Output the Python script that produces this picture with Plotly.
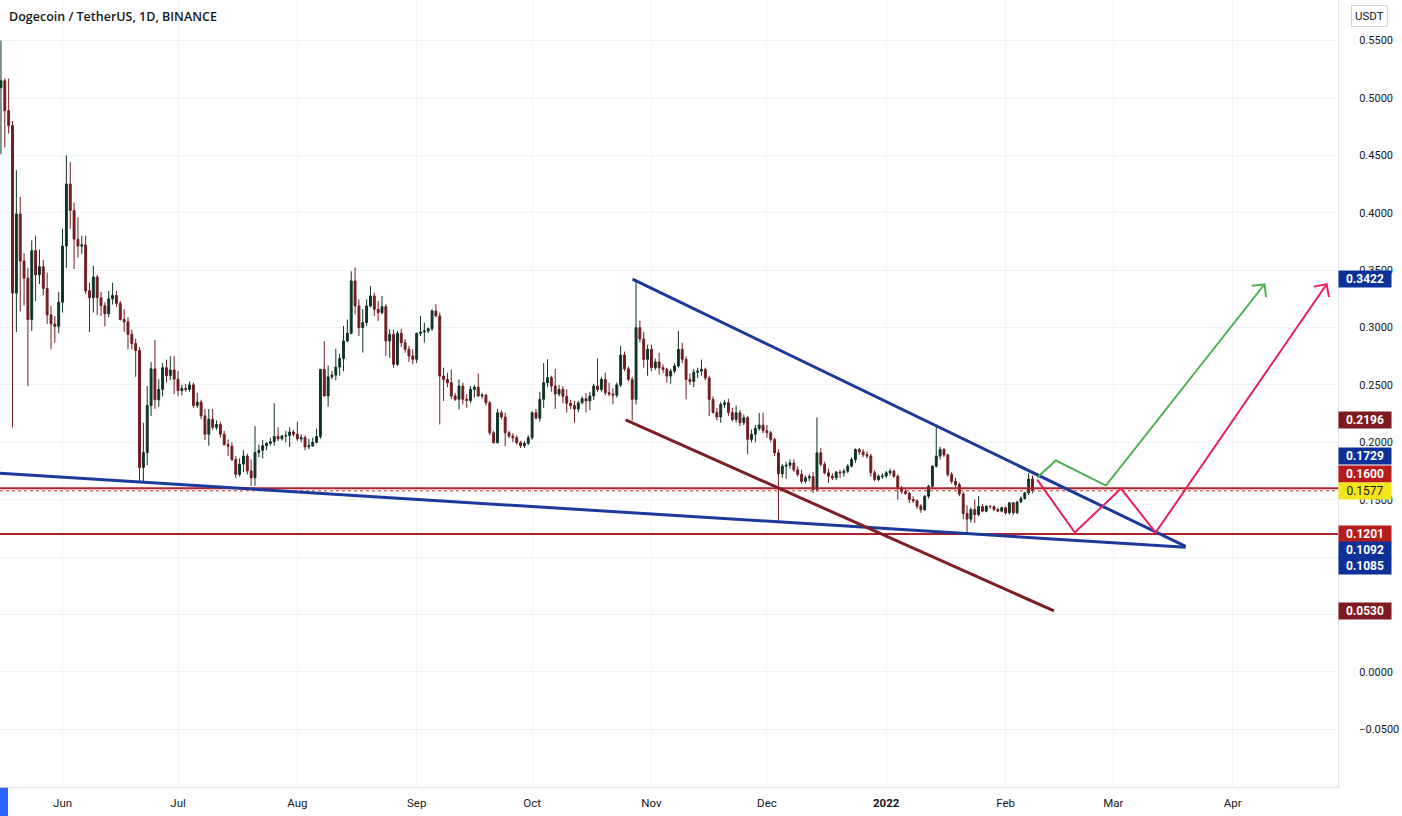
import math
import pandas as pd
import plotly.graph_objects as go

# ---------------- data ----------------
start_date = "2021-05-16"

opens = [0.509, 0.515, 0.489, 0.476, 0.330, 0.399, 0.358, 0.343, 0.307, 0.367,
         0.346, 0.353, 0.334, 0.311, 0.303, 0.301, 0.322, 0.371, 0.425, 0.402,
         0.377, 0.371, 0.372, 0.332, 0.326, 0.344, 0.326, 0.319, 0.312, 0.325,
         0.328, 0.321, 0.307, 0.305, 0.294, 0.286, 0.280, 0.178, 0.191, 0.232,
         0.264, 0.237, 0.246, 0.265, 0.258, 0.263, 0.255, 0.245, 0.247, 0.246,
         0.250, 0.232, 0.235, 0.223, 0.207, 0.220, 0.213, 0.2155, 0.207, 0.198,
         0.1966, 0.185, 0.172, 0.181, 0.188, 0.175, 0.169, 0.191, 0.193, 0.197,
         0.199, 0.2005, 0.205, 0.203, 0.2055, 0.2058, 0.209, 0.207, 0.203, 0.204,
         0.196, 0.197, 0.200, 0.205, 0.2635, 0.2403, 0.257, 0.2585, 0.2655, 0.273,
         0.2883, 0.295, 0.3406, 0.3188, 0.2999, 0.3043, 0.3188, 0.3275, 0.3159, 0.3130,
         0.3182, 0.2883, 0.2941, 0.2679, 0.2949, 0.2868, 0.2810, 0.2752, 0.2723, 0.2949,
         0.2961, 0.2970, 0.2990, 0.3144, 0.3101, 0.2577, 0.2548, 0.2519, 0.2403, 0.2374,
         0.2490, 0.2374, 0.2364, 0.2461, 0.2480, 0.2403, 0.2410, 0.2344, 0.2083, 0.1996,
         0.2257, 0.2220, 0.2083, 0.2054, 0.2040, 0.1996, 0.1970, 0.1990, 0.2040, 0.2257,
         0.2210, 0.2374, 0.2519, 0.2563, 0.2490, 0.2420, 0.2461, 0.2400, 0.2340, 0.2320,
         0.2290, 0.2344, 0.2380, 0.2360, 0.2403, 0.2490, 0.2460, 0.2548, 0.2432, 0.2420,
         0.2410, 0.2500, 0.2760, 0.2640, 0.2548, 0.2374, 0.2999, 0.2900, 0.2723, 0.2810,
         0.2650, 0.2700, 0.2650, 0.2635, 0.2577, 0.2620, 0.2665, 0.2810, 0.2723, 0.2548,
         0.2530, 0.2610, 0.2620, 0.2635, 0.2560, 0.2374, 0.2260, 0.2220, 0.2330, 0.2344,
         0.2260, 0.2199, 0.2257, 0.2170, 0.2214, 0.2025, 0.2070, 0.2120, 0.2150, 0.2100,
         0.2083, 0.2025, 0.1908, 0.1725, 0.1792, 0.1800, 0.1820, 0.1760, 0.1720, 0.1660,
         0.1690, 0.1700, 0.1588, 0.1908, 0.1808, 0.1734, 0.1704, 0.1690, 0.1740, 0.1734,
         0.1748, 0.1792, 0.1850, 0.1937, 0.1915, 0.1893, 0.1880, 0.1734, 0.1675, 0.1704,
         0.1706, 0.1734, 0.1748, 0.1704, 0.1600, 0.1570, 0.1555, 0.1501, 0.1490, 0.1443,
         0.1414, 0.1530, 0.1617, 0.1792, 0.1880, 0.1937, 0.1890, 0.1720, 0.1660, 0.1630,
         0.1550, 0.1380, 0.1330, 0.1414, 0.1370, 0.1440, 0.1400, 0.1443, 0.1440, 0.1414,
         0.1400, 0.1430, 0.1385, 0.1472, 0.1385, 0.1480, 0.1510, 0.1559, 0.1680]

highs = [0.550, 0.517, 0.517, 0.480, 0.437, 0.414, 0.365, 0.352, 0.376, 0.380,
         0.368, 0.359, 0.348, 0.319, 0.310, 0.331, 0.386, 0.450, 0.444, 0.409,
         0.396, 0.380, 0.380, 0.339, 0.354, 0.346, 0.331, 0.322, 0.332, 0.339,
         0.332, 0.323, 0.316, 0.309, 0.298, 0.290, 0.283, 0.217, 0.249, 0.270,
         0.289, 0.255, 0.269, 0.272, 0.275, 0.275, 0.262, 0.250, 0.251, 0.253,
         0.252, 0.243, 0.237, 0.229, 0.229, 0.229, 0.219, 0.218, 0.210, 0.2024,
         0.2001, 0.188, 0.186, 0.193, 0.190, 0.185, 0.214, 0.198, 0.202, 0.200,
         0.204, 0.234, 0.213, 0.2065, 0.210, 0.213, 0.211, 0.218, 0.207, 0.206,
         0.203, 0.204, 0.212, 0.264, 0.288, 0.267, 0.262, 0.2815, 0.277, 0.3013,
         0.307, 0.349, 0.3523, 0.3246, 0.3159, 0.3246, 0.3362, 0.3304, 0.3232, 0.3275,
         0.3203, 0.2984, 0.2984, 0.2970, 0.2990, 0.2900, 0.2840, 0.2810, 0.2955, 0.3101,
         0.3043, 0.3000, 0.3159, 0.3203, 0.3130, 0.2650, 0.2606, 0.2635, 0.2430, 0.2548,
         0.2519, 0.2420, 0.2490, 0.2500, 0.2600, 0.2430, 0.2420, 0.2360, 0.2100, 0.2290,
         0.2280, 0.2260, 0.2100, 0.2080, 0.2060, 0.2010, 0.2010, 0.2060, 0.2270, 0.2290,
         0.2440, 0.2690, 0.2723, 0.2580, 0.2640, 0.2500, 0.2490, 0.2461, 0.2370, 0.2360,
         0.2360, 0.2400, 0.2430, 0.2440, 0.2510, 0.2730, 0.2570, 0.2606, 0.2520, 0.2470,
         0.2520, 0.2840, 0.2790, 0.2660, 0.2570, 0.3413, 0.3060, 0.2960, 0.2850, 0.2850,
         0.2730, 0.2780, 0.2680, 0.2650, 0.2640, 0.2690, 0.2970, 0.2868, 0.2750, 0.2600,
         0.2640, 0.2650, 0.2720, 0.2650, 0.2580, 0.2400, 0.2300, 0.2350, 0.2370, 0.2380,
         0.2300, 0.2320, 0.2280, 0.2240, 0.2230, 0.2110, 0.2150, 0.2257, 0.2257, 0.2150,
         0.2100, 0.2040, 0.1940, 0.1810, 0.1830, 0.1850, 0.1850, 0.1790, 0.1760, 0.1710,
         0.1720, 0.1740, 0.2216, 0.1950, 0.1830, 0.1770, 0.1730, 0.1750, 0.1760, 0.1770,
         0.1810, 0.1870, 0.1946, 0.1950, 0.1940, 0.1920, 0.1900, 0.1760, 0.1720, 0.1730,
         0.1750, 0.1770, 0.1760, 0.1720, 0.1620, 0.1590, 0.1570, 0.1530, 0.1500, 0.1460,
         0.1540, 0.1630, 0.1800, 0.2141, 0.1960, 0.1950, 0.1900, 0.1740, 0.1690, 0.1650,
         0.1570, 0.1450, 0.1430, 0.1501, 0.1530, 0.1460, 0.1450, 0.1450, 0.1450, 0.1430,
         0.1440, 0.1440, 0.1480, 0.1480, 0.1490, 0.1530, 0.1570, 0.1730, 0.1710]

lows = [0.451, 0.457, 0.469, 0.213, 0.296, 0.314, 0.319, 0.249, 0.297, 0.323,
        0.338, 0.328, 0.303, 0.281, 0.287, 0.295, 0.313, 0.352, 0.386, 0.351,
        0.361, 0.364, 0.329, 0.296, 0.313, 0.311, 0.310, 0.301, 0.309, 0.320,
        0.318, 0.306, 0.296, 0.281, 0.281, 0.257, 0.165, 0.165, 0.180, 0.223,
        0.229, 0.231, 0.240, 0.252, 0.254, 0.242, 0.240, 0.241, 0.244, 0.244,
        0.230, 0.230, 0.220, 0.202, 0.197, 0.211, 0.211, 0.204, 0.197, 0.188,
        0.1835, 0.169, 0.170, 0.174, 0.172, 0.162, 0.162, 0.187, 0.186, 0.193,
        0.197, 0.197, 0.201, 0.2015, 0.200, 0.196, 0.205, 0.201, 0.200, 0.193,
        0.194, 0.196, 0.199, 0.203, 0.240, 0.231, 0.255, 0.254, 0.258, 0.262,
        0.287, 0.294, 0.3115, 0.2926, 0.2781, 0.3013, 0.3174, 0.3101, 0.3057, 0.3115,
        0.2752, 0.2737, 0.2650, 0.2665, 0.2830, 0.2780, 0.2700, 0.2680, 0.2690, 0.2926,
        0.2868, 0.2950, 0.2970, 0.3090, 0.2155, 0.2360, 0.2480, 0.2374, 0.2360, 0.2286,
        0.2330, 0.2300, 0.2340, 0.2390, 0.2400, 0.2380, 0.2320, 0.2060, 0.1990, 0.1990,
        0.2200, 0.1966, 0.2040, 0.2000, 0.1980, 0.1950, 0.1950, 0.1975, 0.2020, 0.2200,
        0.2180, 0.2300, 0.2480, 0.2440, 0.2290, 0.2400, 0.2340, 0.2260, 0.2290, 0.2170,
        0.2260, 0.2330, 0.2260, 0.2280, 0.2370, 0.2440, 0.2440, 0.2410, 0.2400, 0.2330,
        0.2390, 0.2480, 0.2620, 0.2530, 0.2190, 0.2330, 0.2870, 0.2650, 0.2580, 0.2620,
        0.2630, 0.2590, 0.2600, 0.2519, 0.2510, 0.2600, 0.2650, 0.2690, 0.2374, 0.2500,
        0.2480, 0.2560, 0.2580, 0.2540, 0.2228, 0.2250, 0.2190, 0.2170, 0.2300, 0.2230,
        0.2180, 0.2170, 0.2140, 0.2150, 0.1894, 0.2000, 0.2000, 0.2100, 0.2080, 0.2040,
        0.2000, 0.1879, 0.1312, 0.1690, 0.1680, 0.1770, 0.1740, 0.1700, 0.1640, 0.1640,
        0.1660, 0.1559, 0.1573, 0.1790, 0.1720, 0.1646, 0.1670, 0.1670, 0.1690, 0.1700,
        0.1730, 0.1780, 0.1821, 0.1890, 0.1870, 0.1860, 0.1700, 0.1660, 0.1660, 0.1680,
        0.1690, 0.1710, 0.1690, 0.1501, 0.1550, 0.1540, 0.1472, 0.1470, 0.1420, 0.1385,
        0.1400, 0.1510, 0.1600, 0.1780, 0.1850, 0.1870, 0.1700, 0.1640, 0.1610, 0.1530,
        0.1330, 0.1210, 0.1300, 0.1297, 0.1356, 0.1390, 0.1390, 0.1420, 0.1400, 0.1390,
        0.1390, 0.1370, 0.1370, 0.1365, 0.1375, 0.1470, 0.1500, 0.1540, 0.1555]

closes = [0.515, 0.489, 0.476, 0.330, 0.399, 0.358, 0.343, 0.307, 0.367, 0.346,
          0.353, 0.334, 0.311, 0.303, 0.301, 0.322, 0.371, 0.425, 0.402, 0.377,
          0.371, 0.372, 0.332, 0.326, 0.344, 0.326, 0.319, 0.312, 0.325, 0.328,
          0.321, 0.307, 0.305, 0.294, 0.286, 0.280, 0.178, 0.191, 0.232, 0.264,
          0.237, 0.246, 0.265, 0.258, 0.263, 0.255, 0.245, 0.247, 0.246, 0.250,
          0.232, 0.235, 0.223, 0.207, 0.220, 0.213, 0.2155, 0.207, 0.198, 0.1966,
          0.185, 0.172, 0.181, 0.188, 0.175, 0.169, 0.191, 0.193, 0.197, 0.199,
          0.2005, 0.205, 0.203, 0.2055, 0.2058, 0.209, 0.207, 0.203, 0.204, 0.196,
          0.197, 0.200, 0.205, 0.2635, 0.2403, 0.257, 0.2585, 0.2655, 0.273, 0.2883,
          0.295, 0.3406, 0.3188, 0.2999, 0.3043, 0.3188, 0.3275, 0.3159, 0.3130, 0.3182,
          0.2883, 0.2941, 0.2679, 0.2949, 0.2868, 0.2810, 0.2752, 0.2723, 0.2949, 0.2961,
          0.2970, 0.2990, 0.3144, 0.3101, 0.2577, 0.2548, 0.2519, 0.2403, 0.2374, 0.2490,
          0.2374, 0.2364, 0.2461, 0.2480, 0.2403, 0.2410, 0.2344, 0.2083, 0.1996, 0.2257,
          0.2220, 0.2083, 0.2054, 0.2040, 0.1996, 0.1970, 0.1990, 0.2040, 0.2257, 0.2210,
          0.2374, 0.2519, 0.2563, 0.2490, 0.2420, 0.2461, 0.2400, 0.2340, 0.2320, 0.2290,
          0.2344, 0.2380, 0.2360, 0.2403, 0.2490, 0.2460, 0.2548, 0.2432, 0.2420, 0.2410,
          0.2500, 0.2760, 0.2640, 0.2548, 0.2374, 0.2999, 0.2900, 0.2723, 0.2810, 0.2650,
          0.2700, 0.2650, 0.2635, 0.2577, 0.2620, 0.2665, 0.2810, 0.2723, 0.2548, 0.2530,
          0.2610, 0.2620, 0.2635, 0.2560, 0.2374, 0.2260, 0.2220, 0.2330, 0.2344, 0.2260,
          0.2199, 0.2257, 0.2170, 0.2214, 0.2025, 0.2070, 0.2120, 0.2150, 0.2100, 0.2083,
          0.2025, 0.1908, 0.1725, 0.1792, 0.1800, 0.1820, 0.1760, 0.1720, 0.1660, 0.1690,
          0.1700, 0.1588, 0.1908, 0.1808, 0.1734, 0.1704, 0.1690, 0.1740, 0.1734, 0.1748,
          0.1792, 0.1850, 0.1937, 0.1915, 0.1893, 0.1880, 0.1734, 0.1675, 0.1704, 0.1706,
          0.1734, 0.1748, 0.1704, 0.1600, 0.1570, 0.1555, 0.1501, 0.1490, 0.1443, 0.1414,
          0.1530, 0.1617, 0.1792, 0.1880, 0.1937, 0.1890, 0.1720, 0.1660, 0.1630, 0.1550,
          0.1380, 0.1330, 0.1414, 0.1370, 0.1440, 0.1400, 0.1443, 0.1440, 0.1414, 0.1400,
          0.1430, 0.1385, 0.1472, 0.1385, 0.1480, 0.1510, 0.1559, 0.1680, 0.1577]

# drawings (date, price)
upper_trend_dates = ["2021-10-27 02:00", "2022-03-19 19:00"]
upper_trend_prices = [0.3422, 0.1092]
lower_trend_dates = ["2021-05-15 18:00", "2022-03-19 19:00"]
lower_trend_prices = [0.1729, 0.1085]
channel_dates = ["2021-10-25 07:00", "2022-02-13 14:00"]
channel_prices = [0.2196, 0.0530]
resistance_level = 0.1600
support_level = 0.1201
last_price = 0.1577
green_dates = ["2022-02-09 05:00", "2022-02-14 02:00", "2022-02-27 02:00", "2022-04-09 07:00"]
green_prices = [0.1693, 0.1841, 0.1623, 0.3377]
pink_dates = ["2022-02-09 05:00", "2022-02-19 00:00", "2022-03-03 00:00", "2022-03-12 00:00", "2022-04-25 10:00"]
pink_prices = [0.1675, 0.1213, 0.1597, 0.1213, 0.3377]

month_ticks = ["2021-06-01", "2021-07-01", "2021-08-01", "2021-09-01", "2021-10-01",
               "2021-11-01", "2021-12-01", "2022-01-01", "2022-02-01", "2022-03-01", "2022-04-01"]
month_labels = ["Jun", "Jul", "Aug", "Sep", "Oct", "Nov", "Dec", "<b>2022</b>", "Feb", "Mar", "Apr"]
price_ticks = [-0.05, 0.0, 0.05, 0.10, 0.15, 0.20, 0.25, 0.30, 0.35, 0.40, 0.45, 0.50, 0.55]
# tick labels hidden behind the coloured price labels in the original
hidden_ticks = [0.05, 0.10]

label_values = [0.3422, 0.2196, 0.1729, 0.1600, 0.1577, 0.1201, 0.1092, 0.1085, 0.0530]

# ---------------- styling ----------------
X_RANGE = ["2021-05-15 18:00", "2022-04-28 09:00"]
Y_RANGE = [-0.1004, 0.5854]
PLOT_W, PLOT_H = 1338, 787
BLUE = "#1c3a9c"
MAROON = "#7e1e24"
RED = "#b2212b"
GREEN = "#4caf50"
PINK = "#e91e63"
FONT_AXIS = "Roboto, sans-serif"

dates = pd.date_range(start_date, periods=len(closes), freq="D")

x0 = pd.Timestamp(X_RANGE[0]); x1 = pd.Timestamp(X_RANGE[1])
px_per_ms = PLOT_W / ((x1 - x0).total_seconds() * 1000)
px_per_price = PLOT_H / (Y_RANGE[1] - Y_RANGE[0])


def fmt_price(v):
    s = f"{abs(v):.4f}"
    return ("\u2212" + s) if v < 0 else s


price_ticktext = ["" if any(abs(v - h) < 1e-9 for h in hidden_ticks) else fmt_price(v)
                  for v in price_ticks]


def chevron(dts, prs, length=13, spread=45):
    t = pd.Timestamp(dts[-1]); p = pd.Timestamp(dts[-2])
    dxp = (t - p).total_seconds() * 1000 * px_per_ms
    dyp = (prs[-1] - prs[-2]) * px_per_price
    ang = math.atan2(dyp, dxp)
    xs, ys = [], []
    for s in (1, None, -1):
        if s is None:
            xs.append(t); ys.append(prs[-1]); continue
        a = ang + math.pi - s * math.radians(spread)
        ex, ey = length * math.cos(a), length * math.sin(a)
        xs.append(t + pd.Timedelta(milliseconds=ex / px_per_ms))
        ys.append(prs[-1] + ey / px_per_price)
    return xs, ys


fig = go.Figure()

fig.add_trace(go.Candlestick(
    x=dates, open=opens, high=highs, low=lows, close=closes,
    increasing=dict(line=dict(color="#0f3324", width=1), fillcolor="#0f3324"),
    decreasing=dict(line=dict(color="#701c20", width=1), fillcolor="#701c20"),
    whiskerwidth=0, hoverinfo="skip",
))


def line(xs, ys, color, width, dash="solid"):
    fig.add_trace(go.Scatter(x=xs, y=ys, mode="lines",
                             line=dict(color=color, width=width, dash=dash),
                             hoverinfo="skip"))


# horizontal levels
line(X_RANGE, [resistance_level] * 2, RED, 2)
line(X_RANGE, [support_level] * 2, RED, 2)
line(X_RANGE, [last_price] * 2, "#c0392b", 1, "dot")

line(lower_trend_dates, lower_trend_prices, BLUE, 3)
line(upper_trend_dates, upper_trend_prices, BLUE, 3)
line(channel_dates, channel_prices, MAROON, 3)

line(green_dates, green_prices, GREEN, 2)
gx, gy = chevron(green_dates, green_prices)
line(gx, gy, GREEN, 2)
line(pink_dates, pink_prices, PINK, 2)
pxs, pys = chevron(pink_dates, pink_prices)
line(pxs, pys, PINK, 2)

# price labels on the axis
label_bg = ["#0c3299", "#7f1b20", "#0c3299", "#b71c1c", "#f5e51b", "#b71c1c", "#0c3299", "#0c3299", "#7f1b20"]
label_fg = ["white"] * 4 + ["#131722"] + ["white"] * 4
label_shift = [0, 0, 17, 14.5, 0, 0, -3.5, -18.5, 0]
annotations = []
for v, bg, fg, sh in zip(label_values, label_bg, label_fg, label_shift):
    annotations.append(dict(
        xref="paper", x=1, xanchor="left", xshift=0,
        yref="y", y=v, yanchor="middle", yshift=sh,
        text=f"<b>{v:.4f}</b>" if fg == "white" else f"{v:.4f}",
        showarrow=False, bgcolor=bg, width=48, height=12, borderpad=2,
        font=dict(family=FONT_AXIS, size=12, color=fg), align="center",
    ))

annotations.append(dict(
    xref="paper", x=0, xanchor="left", xshift=7,
    yref="paper", y=1, yanchor="middle", yshift=-16,
    text="Dogecoin / TetherUS, 1D, BINANCE", showarrow=False,
    font=dict(family="Open Sans, sans-serif", size=12.5, color="#131722", weight=600),
))
annotations.append(dict(
    xref="paper", x=1, xanchor="left", xshift=13,
    yref="paper", y=1, yanchor="middle", yshift=-16,
    text="USDT", showarrow=False, bordercolor="#d1d4dc", borderwidth=1, borderpad=3,
    font=dict(family=FONT_AXIS, size=11.5, color="#131722"),
))

fig.update_layout(
    width=1402, height=816,
    margin=dict(l=0, r=64, t=0, b=29),
    paper_bgcolor="white", plot_bgcolor="white",
    showlegend=False,
    annotations=annotations,
    shapes=[dict(type="rect", xref="paper", yref="paper", x0=0, x1=0.006, y0=-0.037, y1=-0.001,
                 fillcolor="#2962ff", line=dict(width=0), layer="above")],
    xaxis=dict(
        type="date", range=X_RANGE, tickvals=month_ticks, ticktext=month_labels,
        showgrid=True, gridcolor="#f0f3fa", gridwidth=1, zeroline=False,
        showline=True, linecolor="#e0e3eb", ticks="", ticklabelstandoff=5,
        tickfont=dict(family=FONT_AXIS, size=11.5, color="#131722"),
        rangeslider=dict(visible=False), fixedrange=True,
    ),
    yaxis=dict(
        side="right", range=Y_RANGE, tickvals=price_ticks, ticktext=price_ticktext,
        showgrid=True, gridcolor="#f0f3fa", gridwidth=1, zeroline=False,
        showline=True, linecolor="#e0e3eb", ticks="", ticklabelstandoff=18,
        tickfont=dict(family=FONT_AXIS, size=11, color="#131722"), fixedrange=True,
    ),
)

fig.write_html("out.html")
